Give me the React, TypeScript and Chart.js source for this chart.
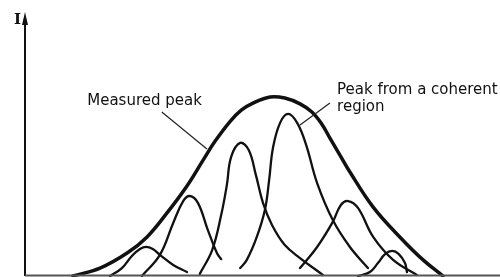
import React, { useEffect, useRef } from "react";
import { Chart, registerables } from "chart.js";

Chart.register(...registerables);

// Position along the scan axis (0..100) and intensity I (0..100)
const envelopeX = [10.1, 15.8, 21.5, 25.7, 29.9, 34.1, 37.5, 40.0, 43.2, 45.6, 48.0, 51.6, 54.7, 57.9, 60.4, 62.5, 64.2, 66.3, 68.4, 73.3, 78.9, 83.8, 88.0];
const envelopeI = [0, 3.0, 8.7, 14.8, 23.9, 34.1, 43.9, 51.0, 58.6, 62.9, 65.5, 67.8, 67.4, 65.2, 62.1, 57.5, 52.2, 45.8, 39.4, 26.1, 14.8, 6.1, 0];

const peak1X = [17.9, 20.4, 22.5, 24.2, 25.5, 26.9, 28.4, 31.2, 34.1];
const peak1I = [0, 3.0, 7.6, 10.2, 11.0, 10.2, 8.0, 4.2, 1.5];

const peak2X = [24.6, 28.4, 31.2, 33.3, 34.7, 36.4, 38.5, 40.4, 41.3];
const peak2I = [0, 8.0, 20.1, 28.4, 30.3, 27.7, 17.4, 8.7, 6.4];

const peak3X = [36.8, 39.4, 41.3, 42.5, 43.4, 45.3, 47.1, 48.6, 50.1, 52.0, 54.7, 57.9, 62.7];
const peak3I = [0.8, 9.8, 23.1, 34.5, 45.1, 50.4, 47.7, 38.3, 27.7, 19.3, 11.7, 6.8, 0.4];

const peak4X = [45.3, 46.7, 48.8, 50.5, 51.4, 52.2, 53.7, 55.4, 57.3, 59.2, 61.5, 64.8, 68.4, 72.2];
const peak4I = [3.0, 6.1, 14.8, 25.0, 36.4, 48.5, 58.0, 61.4, 58.0, 49.6, 35.2, 21.2, 11.0, 3.0];

const peak5X = [57.9, 61.5, 64.8, 66.5, 68.0, 70.1, 73.3, 77.5, 82.5];
const peak5I = [3.0, 11.0, 20.5, 26.9, 28.4, 25.8, 14.8, 6.1, 0.4];

const peak6X = [70.1, 72.6, 74.3, 75.8, 77.3, 78.7, 80.0, 80.4];
const peak6I = [0, 1.5, 4.9, 8.3, 9.5, 8.3, 4.9, 1.5];

// Annotations (text + leader line ends, in data units)
const labelMeasured = { text: "Measured peak", x: 13.1, y: 64.8, lineFrom: [28.8, 62.1], lineTo: [38.3, 48.1] };
const labelCoherent = { lines: ["Peak from a coherent", "region"], x: 65.7, y: 68.9, y2: 62.5, lineFrom: [64.2, 65.5], lineTo: [57.9, 57.2] };
const axisLabel = "I";

const toPoints = (xs: number[], ys: number[]) => xs.map((x, i) => ({ x, y: ys[i] }));

const overlay = {
  id: "overlay",
  afterDatasetsDraw(chart: any) {
    const { ctx, chartArea, scales } = chart;
    const xs = scales.x;
    const ys = scales.y;
    ctx.save();
    // axes
    ctx.strokeStyle = "#111";
    ctx.lineWidth = 2;
    ctx.beginPath();
    ctx.moveTo(chartArea.left, chartArea.bottom);
    ctx.lineTo(chartArea.left, chartArea.top + 8);
    ctx.stroke();
    ctx.strokeStyle = "#555";
    ctx.beginPath();
    ctx.moveTo(chartArea.left, chartArea.bottom - 0.5);
    ctx.lineTo(chartArea.right, chartArea.bottom - 0.5);
    ctx.stroke();
    // arrow head
    ctx.fillStyle = "#111";
    ctx.beginPath();
    ctx.moveTo(chartArea.left, chartArea.top);
    ctx.lineTo(chartArea.left - 3, chartArea.top + 13);
    ctx.lineTo(chartArea.left + 3, chartArea.top + 13);
    ctx.closePath();
    ctx.fill();
    // I label
    ctx.font = "bold 15px 'DejaVu Serif'";
    ctx.textAlign = "right";
    ctx.textBaseline = "top";
    ctx.fillText(axisLabel, chartArea.left - 4, chartArea.top + 1);
    // text labels
    ctx.font = "15px 'DejaVu Sans'";
    ctx.textAlign = "left";
    ctx.textBaseline = "alphabetic";
    ctx.fillStyle = "#111";
    ctx.fillText(labelMeasured.text, xs.getPixelForValue(labelMeasured.x), ys.getPixelForValue(labelMeasured.y));
    ctx.fillText(labelCoherent.lines[0], xs.getPixelForValue(labelCoherent.x), ys.getPixelForValue(labelCoherent.y));
    ctx.fillText(labelCoherent.lines[1], xs.getPixelForValue(labelCoherent.x), ys.getPixelForValue(labelCoherent.y2));
    // leader lines
    ctx.strokeStyle = "#222";
    ctx.lineWidth = 1.2;
    for (const l of [labelMeasured, labelCoherent]) {
      ctx.beginPath();
      ctx.moveTo(xs.getPixelForValue(l.lineFrom[0]), ys.getPixelForValue(l.lineFrom[1]));
      ctx.lineTo(xs.getPixelForValue(l.lineTo[0]), ys.getPixelForValue(l.lineTo[1]));
      ctx.stroke();
    }
    ctx.restore();
  },
};

export default function App() {
  const ref = useRef<HTMLCanvasElement | null>(null);
  useEffect(() => {
    document.body.style.margin = "0";
    const comp = (xs: number[], ys: number[], w: number) => ({
      data: toPoints(xs, ys),
      borderColor: "#111",
      borderWidth: w,
      pointRadius: 0,
      fill: false,
      tension: 0.4,
      clip: false as const,
      borderCapStyle: "round" as const,
      borderJoinStyle: "round" as const,
    });
    const chart = new Chart(ref.current!, {
      type: "line",
      data: {
        datasets: [
          comp(envelopeX, envelopeI, 3.5),
          comp(peak1X, peak1I, 2.3),
          comp(peak2X, peak2I, 2.3),
          comp(peak3X, peak3I, 2.3),
          comp(peak4X, peak4I, 2.3),
          comp(peak5X, peak5I, 2.3),
          comp(peak6X, peak6I, 2.3),
        ],
      },
      options: {
        animation: false,
        responsive: false,
        maintainAspectRatio: false,
        layout: { padding: { left: 25, top: 12, right: 0, bottom: 1 } },
        scales: {
          x: { type: "linear", min: 0, max: 100, display: false },
          y: { type: "linear", min: 0, max: 100, display: false },
        },
        plugins: { legend: { display: false }, tooltip: { enabled: false } },
      },
      plugins: [overlay],
    });
    return () => chart.destroy();
  }, []);
  return (
    <div style={{ position: "absolute", left: 0, top: 0, width: 500, height: 277, background: "#fff" }}>
      <canvas ref={ref} width={500} height={277} />
    </div>
  );
}
